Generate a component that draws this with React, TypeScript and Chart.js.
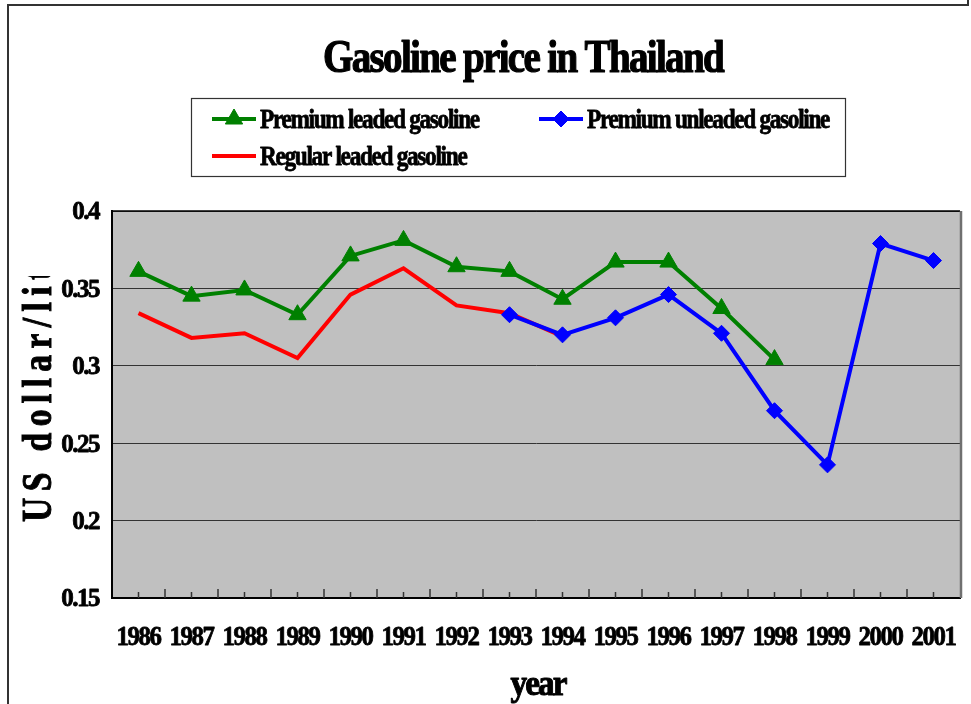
import React, { useEffect, useRef } from 'react';
import { Chart, registerables } from 'chart.js';

Chart.register(...registerables);

const categories = ['1986', '1987', '1988', '1989', '1990', '1991', '1992', '1993', '1994', '1995', '1996', '1997', '1998', '1999', '2000', '2001'];
const premiumLeaded = [0.361, 0.345, 0.349, 0.333, 0.371, 0.381, 0.364, 0.361, 0.343, 0.367, 0.367, 0.337, 0.304, null, null, null];
const premiumUnleaded = [null, null, null, null, null, null, null, 0.333, 0.32, 0.331, 0.346, 0.321, 0.271, 0.236, 0.379, 0.368];
const regularLeaded = [0.334, 0.318, 0.321, 0.305, 0.346, 0.363, 0.339, 0.334, 0.319, null, null, null, null, null, null, null];
const yTicks = [0.15, 0.2, 0.25, 0.3, 0.35, 0.4];
const seriesNames = ['Premium leaded gasoline', 'Premium unleaded gasoline', 'Regular leaded gasoline'];
const titleText = 'Gasoline price in Thailand';
const xTitleText = 'year';
const yTitleText = 'US dollar/liter';

const FONT = "'Liberation Serif', 'Times New Roman', serif";

function drawText(
  ctx: CanvasRenderingContext2D,
  text: string,
  x: number,
  y: number,
  size: number,
  sx: number,
  align: CanvasTextAlign = 'left',
  baseline: CanvasTextBaseline = 'alphabetic',
  spacing = 0,
  heavy = 0
) {
  ctx.save();
  ctx.font = `bold ${size}px ${FONT}`;
  (ctx as any).letterSpacing = `${spacing}px`;
  ctx.translate(x, y);
  ctx.scale(sx, 1);
  ctx.textAlign = align;
  ctx.textBaseline = baseline;
  ctx.fillStyle = '#000';
  ctx.fillText(text, 0, 0);
  if (heavy > 0) {
    ctx.strokeStyle = '#000';
    ctx.lineWidth = heavy;
    ctx.lineJoin = 'round';
    ctx.strokeText(text, 0, 0);
  }
  ctx.restore();
}

function drawMarker(ctx: CanvasRenderingContext2D, style: string, x: number, y: number, r: number, color: string) {
  if (!r) return;
  ctx.save();
  ctx.fillStyle = color;
  ctx.strokeStyle = color;
  ctx.lineWidth = 1;
  ctx.beginPath();
  if (style === 'triangle') {
    for (let k = 0; k < 3; k++) {
      const a = (k * 2 * Math.PI) / 3;
      const px = x + Math.sin(a) * r;
      const py = y - Math.cos(a) * r;
      if (k === 0) ctx.moveTo(px, py);
      else ctx.lineTo(px, py);
    }
  } else {
    ctx.moveTo(x - r, y);
    ctx.lineTo(x, y - r);
    ctx.lineTo(x + r, y);
    ctx.lineTo(x, y + r);
  }
  ctx.closePath();
  ctx.fill();
  ctx.stroke();
  ctx.restore();
}

const decorPlugin = {
  id: 'decor',
  beforeDraw(chart: any) {
    const { ctx, chartArea } = chart;
    ctx.save();
    ctx.fillStyle = '#fff';
    ctx.fillRect(0, 0, chart.width, chart.height);
    // outer frame
    ctx.strokeStyle = '#333';
    ctx.lineWidth = 2;
    ctx.beginPath();
    ctx.moveTo(8, chart.height);
    ctx.lineTo(8, 5);
    ctx.lineTo(968, 5);
    ctx.lineTo(968, 0);
    ctx.stroke();
    // plot background
    ctx.fillStyle = '#C0C0C0';
    ctx.fillRect(chartArea.left, chartArea.top, chartArea.right - chartArea.left, chartArea.bottom - chartArea.top);
    ctx.restore();
  },
  afterDraw(chart: any) {
    const { ctx, chartArea } = chart;
    const xs = chart.scales.x;
    const ys = chart.scales.y;
    ctx.save();
    // top and right plot borders
    ctx.strokeStyle = '#000';
    ctx.lineWidth = 1.5;
    ctx.beginPath();
    ctx.moveTo(chartArea.left, chartArea.top);
    ctx.lineTo(chartArea.right, chartArea.top);
    ctx.stroke();
    ctx.strokeStyle = '#707070';
    ctx.lineWidth = 2.5;
    ctx.beginPath();
    ctx.moveTo(chartArea.right + 1, chartArea.top);
    ctx.lineTo(chartArea.right + 1, chartArea.bottom);
    ctx.stroke();
    // inward tick marks on the x axis
    const n = chart.data.labels.length;
    const step = (chartArea.right - chartArea.left) / n;
    ctx.strokeStyle = '#333';
    ctx.lineWidth = 1.5;
    ctx.beginPath();
    for (let i = 0; i < n; i++) {
      const cx = xs.getPixelForTick(i);
      ctx.moveTo(cx, chartArea.bottom);
      ctx.lineTo(cx, chartArea.bottom - 6);
      if (i > 0) {
        const bx = cx - step / 2;
        ctx.moveTo(bx, chartArea.bottom);
        ctx.lineTo(bx, chartArea.bottom - 9);
      }
    }
    ctx.stroke();
    ctx.restore();

    // x tick labels
    chart.data.labels.forEach((lab: string, i: number) => {
      drawText(ctx, lab, xs.getPixelForTick(i), 645, 27, 0.92, 'center', 'alphabetic', -1.5, 0.8);
    });
    // y tick labels
    ys.ticks.forEach((t: any) => {
      const label = String(Math.round(t.value * 100) / 100);
      drawText(ctx, label, 99, ys.getPixelForValue(t.value) + 2, 25, 1, 'right', 'middle', -1.5, 0.8);
    });

    // title
    drawText(ctx, titleText, 523, 72, 46, 0.85, 'center', 'alphabetic', -2, 1.2);

    // legend box
    ctx.save();
    ctx.fillStyle = '#fff';
    ctx.fillRect(191, 98, 654, 78);
    ctx.strokeStyle = '#333';
    ctx.lineWidth = 1.2;
    ctx.strokeRect(191.5, 98.5, 654, 78);
    ctx.restore();
    const legendPos = [
      { x: 212, y: 119 },
      { x: 539, y: 119 },
      { x: 212, y: 156 },
    ];
    chart.data.datasets.forEach((ds: any, i: number) => {
      const p = legendPos[i];
      ctx.save();
      ctx.strokeStyle = ds.borderColor;
      ctx.lineWidth = ds.borderWidth;
      ctx.beginPath();
      ctx.moveTo(p.x, p.y);
      ctx.lineTo(p.x + 44, p.y);
      ctx.stroke();
      ctx.restore();
      drawMarker(ctx, ds.pointStyle, p.x + 22, p.y, ds.pointRadius, ds.borderColor);
      drawText(ctx, ds.label, p.x + 48, p.y + 9, 27, 0.86, 'left', 'alphabetic', -1.5, 0.8);
    });

    // x axis title
    drawText(ctx, xTitleText, 538, 695, 35, 0.95, 'center', 'alphabetic', -2, 1);

    // y axis title (rotated, clipped at top)
    ctx.save();
    ctx.beginPath();
    ctx.rect(0, 276, 110, 428);
    ctx.clip();
    ctx.translate(51, 522);
    ctx.rotate(-Math.PI / 2);
    ctx.scale(0.8, 1);
    ctx.font = `bold 42px ${FONT}`;
    (ctx as any).letterSpacing = '8px';
    ctx.fillStyle = '#000';
    ctx.textAlign = 'left';
    ctx.textBaseline = 'alphabetic';
    ctx.fillText(yTitleText, 0, 0);
    ctx.strokeStyle = '#000';
    ctx.lineWidth = 1;
    ctx.strokeText(yTitleText, 0, 0);
    ctx.restore();
  },
};

export default function App() {
  const canvasRef = useRef<HTMLCanvasElement | null>(null);

  useEffect(() => {
    const canvas = canvasRef.current;
    if (!canvas) return;
    const chart = new Chart(canvas, {
      type: 'line',
      data: {
        labels: categories,
        datasets: [
          {
            label: seriesNames[0],
            data: premiumLeaded,
            borderColor: '#008000',
            backgroundColor: '#008000',
            borderWidth: 4,
            pointStyle: 'triangle',
            pointRadius: 10,
            pointBorderWidth: 1,
            tension: 0,
            spanGaps: false,
          },
          {
            label: seriesNames[1],
            data: premiumUnleaded,
            borderColor: '#0000FF',
            backgroundColor: '#0000FF',
            borderWidth: 4,
            pointStyle: 'rectRot',
            pointRadius: 8,
            pointBorderWidth: 1,
            tension: 0,
            spanGaps: false,
          },
          {
            label: seriesNames[2],
            data: regularLeaded,
            borderColor: '#FF0000',
            backgroundColor: '#FF0000',
            borderWidth: 4,
            pointStyle: 'circle',
            pointRadius: 0,
            tension: 0,
            spanGaps: false,
          },
        ],
      } as any,
      options: {
        animation: false,
        responsive: false,
        devicePixelRatio: 1,
        layout: { padding: { left: 112, right: 11, top: 211, bottom: 106 } },
        plugins: {
          legend: { display: false },
          title: { display: false },
          tooltip: { enabled: false },
        },
        scales: {
          x: {
            type: 'category',
            offset: true,
            grid: { display: false, drawTicks: false },
            border: { display: true, color: '#000', width: 2 },
            ticks: { display: false },
          },
          y: {
            type: 'linear',
            min: 0.15,
            max: 0.4,
            afterBuildTicks: (s: any) => {
              s.ticks = yTicks.map((v) => ({ value: v }));
            },
            grid: { color: '#333', lineWidth: 1, drawTicks: false },
            border: { display: true, color: '#000', width: 2 },
            ticks: { display: false },
          },
        },
      } as any,
      plugins: [decorPlugin],
    });
    return () => chart.destroy();
  }, []);

  return (
    <div style={{ position: 'fixed', left: 0, top: 0, width: 971, height: 704 }}>
      <canvas ref={canvasRef} width={971} height={704} style={{ display: 'block', width: 971, height: 704 }} />
    </div>
  );
}
